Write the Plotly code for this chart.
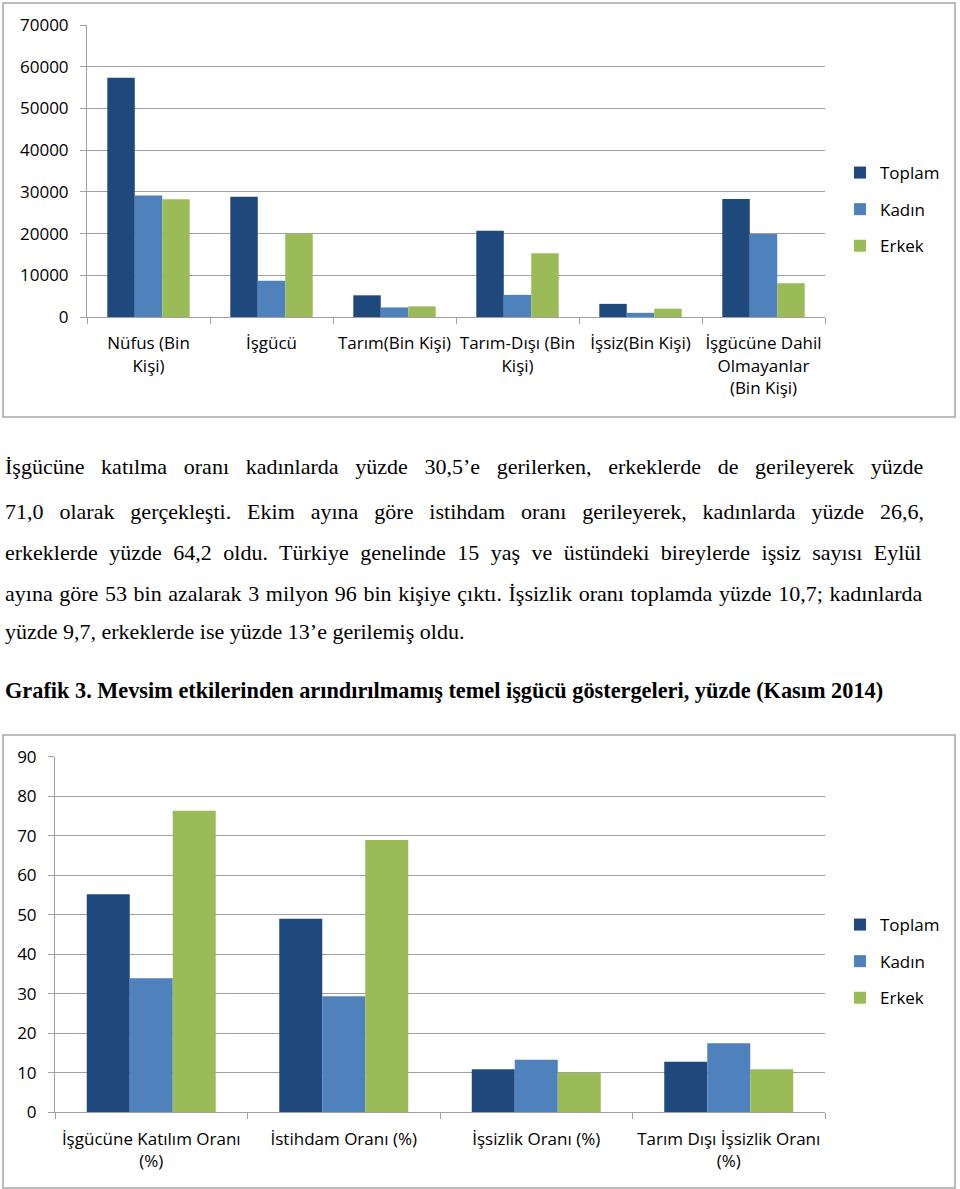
import plotly.graph_objects as go

W, H = 960, 1189

# ---------------- Data ----------------
series = ["Toplam", "Kadın", "Erkek"]
colors = ["#1F497D", "#4F81BD", "#9BBB59"]

cats1 = ["Nüfus (Bin<br>Kişi)", "İşgücü", "Tarım(Bin Kişi)", "Tarım-Dışı (Bin<br>Kişi)",
         "İşsiz(Bin Kişi)", "İşgücüne Dahil<br>Olmayanlar<br>(Bin Kişi)"]
toplam1 = [57350, 28850, 5200, 20700, 3150, 28300]
kadin1 = [29100, 8700, 2300, 5300, 1000, 19900]
erkek1 = [28250, 19950, 2550, 15300, 2000, 8100]

cats2 = ["İşgücüne Katılım Oranı<br>(%)", "İstihdam Oranı (%)", "İşsizlik Oranı (%)",
         "Tarım Dışı İşsizlik Oranı<br>(%)"]
toplam2 = [55.2, 49.0, 10.9, 12.8]
kadin2 = [33.9, 29.4, 13.3, 17.5]
erkek2 = [76.3, 68.9, 10.0, 10.9]

y1_ticks = [0, 10000, 20000, 30000, 40000, 50000, 60000, 70000]
y2_ticks = [0, 10, 20, 30, 40, 50, 60, 70, 80, 90]

para_lines = [
    "İşgücüne katılma oranı kadınlarda yüzde 30,5’e gerilerken, erkeklerde de gerileyerek yüzde",
    "71,0 olarak gerçekleşti. Ekim ayına göre istihdam oranı gerileyerek, kadınlarda yüzde 26,6,",
    "erkeklerde yüzde 64,2 oldu. Türkiye genelinde 15 yaş ve üstündeki bireylerde işsiz sayısı Eylül",
    "ayına göre 53 bin azalarak 3 milyon 96 bin kişiye çıktı. İşsizlik oranı toplamda yüzde 10,7; kadınlarda",
    "yüzde 9,7, erkeklerde ise yüzde 13’e gerilemiş oldu.",
]
title2 = "Grafik 3. Mevsim etkilerinden arındırılmamış temel işgücü göstergeleri, yüzde (Kasım 2014)"

# ---------------- Helpers ----------------
def px_x(x):
    return x / W

def px_y(y):
    return 1 - y / H

SANS = "Open Sans"
SERIF = "Liberation Serif"
GRID = "#a0a0a0"

fig = go.Figure()

for name, col, vals in zip(series, colors, [toplam1, kadin1, erkek1]):
    fig.add_trace(go.Bar(x=cats1, y=vals, name=name, marker=dict(color=col, line=dict(width=0)),
                         xaxis="x", yaxis="y", legend="legend", legendgroup="a" + name))
for name, col, vals in zip(series, colors, [toplam2, kadin2, erkek2]):
    fig.add_trace(go.Bar(x=cats2, y=vals, name=name, marker=dict(color=col, line=dict(width=0)),
                         xaxis="x2", yaxis="y2", legend="legend2", legendgroup="b" + name))

axis_common = dict(showline=True, linecolor=GRID, linewidth=1, automargin=False,
                   tickfont=dict(family=SANS, size=17, color="#000000"))
xcommon = dict(type="category", ticks="outside", tickson="boundaries", ticklen=6,
               tickcolor=GRID, showgrid=False, tickangle=0, ticklabelstandoff=11,
               **axis_common)
ycommon = dict(tickformat="d", ticks="outside", ticklen=6, tickcolor=GRID,
               showgrid=True, gridcolor=GRID, gridwidth=1, zeroline=False,
               ticklabelstandoff=8, **axis_common)

legend_font = dict(family=SANS, size=17, color="#000000")

fig.update_layout(
    width=W, height=H,
    margin=dict(l=0, r=0, t=0, b=0, autoexpand=False),
    paper_bgcolor="white", plot_bgcolor="white",
    bargap=0.33, bargroupgap=0,
    barmode="group",
    xaxis=dict(domain=[px_x(87), px_x(825)], anchor="y", **xcommon),
    yaxis=dict(domain=[px_y(317), px_y(25)], anchor="x", range=[0, 70000],
               tickvals=y1_ticks, **ycommon),
    xaxis2=dict(domain=[px_x(55), px_x(825)], anchor="y2", **xcommon),
    yaxis2=dict(domain=[px_y(1112.3), px_y(756.7)], anchor="x2", range=[0, 90],
                tickvals=y2_ticks, **ycommon),
    legend=dict(x=px_x(840), y=px_y(155), xanchor="left", yanchor="top",
                font=legend_font, tracegroupgap=11.5, itemwidth=30,
                bgcolor="rgba(0,0,0,0)"),
    legend2=dict(x=px_x(840), y=px_y(907), xanchor="left", yanchor="top",
                 font=legend_font, tracegroupgap=11.5, itemwidth=30,
                 bgcolor="rgba(0,0,0,0)"),
    showlegend=True,
)

# Chart borders
for (x0, y0, x1, y1) in [(3, 3, 955, 417), (3, 735, 955, 1188)]:
    fig.add_shape(type="rect", xref="paper", yref="paper",
                  x0=px_x(x0), x1=px_x(x1), y0=px_y(y0), y1=px_y(y1),
                  line=dict(color="#a6a6a6", width=1.5), fillcolor="rgba(0,0,0,0)")

# Paragraph (justified via word spacing)
line_ys = [466, 511, 552, 593, 631]
word_sp = [11.2, 10.45, 6.0, 1.12, 0]
for txt, yy, ws in zip(para_lines, line_ys, word_sp):
    fig.add_annotation(text=f'<span style="word-spacing:{ws}px">{txt}</span>',
                       xref="paper", yref="paper", x=px_x(3), y=px_y(yy),
                       xanchor="left", yanchor="middle", showarrow=False,
                       font=dict(family=SERIF, size=22, color="#000000"))
fig.add_annotation(text="<b>" + title2 + "</b>", xref="paper", yref="paper", x=px_x(3), y=px_y(690),
                   xanchor="left", yanchor="middle", showarrow=False,
                   font=dict(family=SERIF, size=22.3, color="#000000"))

fig.write_html("out.html")
